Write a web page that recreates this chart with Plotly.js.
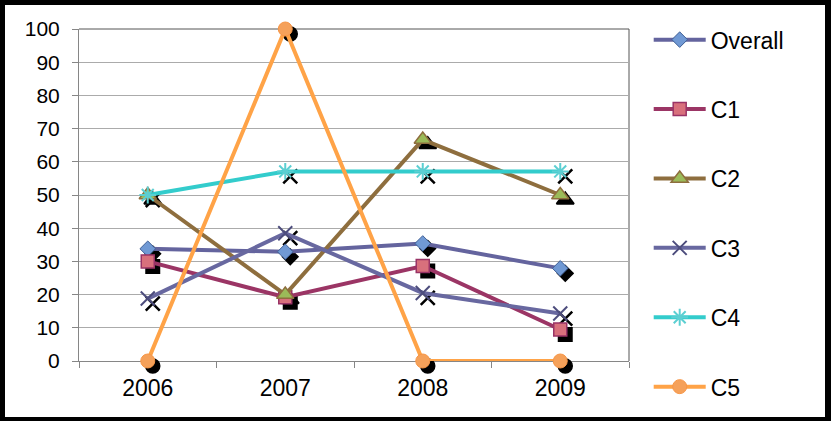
<!DOCTYPE html>
<html><head><meta charset="utf-8">
<script src="https://cdn.plot.ly/plotly-3.0.1.min.js"></script>
<style>
html,body{margin:0;padding:0;background:#000;width:831px;height:421px;overflow:hidden}
#chart{position:absolute;left:5px;top:5px;width:820px;height:412px;background:#fff}
</style></head><body><div id="chart"></div>
<script>
// ---- data ----
const years = ['2006', '2007', '2008', '2009'];
const overall = [33.8, 32.9, 35.4, 27.9];
const c1 = [30.0, 19.2, 28.6, 9.5];
const c2 = [50.0, 20.0, 66.7, 50.0];
const c3 = [18.8, 38.5, 20.5, 14.3];
const c4 = [50.0, 57.1, 57.1, 57.1];
const c5 = [0, 100, 0, 0];
const seriesNames = ['Overall', 'C1', 'C2', 'C3', 'C4', 'C5'];
const yTickVals = [0, 10, 20, 30, 40, 50, 60, 70, 80, 90, 100];

// ---- styles ----
const seriesValues = [overall, c1, c2, c3, c4, c5];
const styles = [
  {line: '#64649e', symbol: 'diamond', size: 12, fill: '#7099d4', edge: '#3f5f95', ew: 1},
  {line: '#9b3565', symbol: 'square', size: 13, fill: '#d8707c', edge: '#993366', ew: 1.5},
  {line: '#8e6e3e', symbol: 'triangle-up', size: 15, fill: '#9bbb59', edge: '#8e6e3e', ew: 1.5},
  {line: '#6868a0', symbol: 'x-thin', size: 14, fill: '#4d4d7d', edge: '#4d4d7d', ew: 2},
  {line: '#33cccc', symbol: 'asterisk', size: 14, fill: '#5ccfd2', edge: '#5ccfd2', ew: 2},
  {line: '#ffa347', symbol: 'circle', size: 14, fill: '#f5a15a', edge: '#f79646', ew: 1}
];

const W = 820, H = 412;
const M = {l: 74, t: 24, r: 191, b: 51};
const RW = W - M.l - M.r, RH = H - M.t - M.b;   // 555 x 337
const SH = 5; // shadow offset px
const mainX = [0, (RW - SH) / RW];
const mainY = [SH / RH, 1];
const shadX = [SH / RW, 1];
const shadY = [0, (RH - SH) / RH];

const traces = [];
// anchor trace for the visible axes (no marks)
traces.push({x: years, y: years.map(() => null), xaxis: 'x', yaxis: 'y', mode: 'lines',
  showlegend: false, hoverinfo: 'skip'});
// shadows
seriesValues.forEach((vals, i) => {
  const s = styles[i];
  traces.push({x: years, y: vals, xaxis: 'x2', yaxis: 'y2', mode: 'markers', cliponaxis: false,
    showlegend: false, hoverinfo: 'skip',
    marker: {symbol: s.symbol === 'asterisk' ? 'x-thin' : s.symbol, size: s.size, color: '#000',
      line: {color: '#000', width: s.ew + 0.5}}});
});
// series
seriesValues.forEach((vals, i) => {
  const s = styles[i];
  traces.push({x: years, y: vals, name: seriesNames[i], legendgroup: seriesNames[i],
    xaxis: 'x3', yaxis: 'y3', mode: 'lines+markers', cliponaxis: false,
    line: {color: s.line, width: 4},
    marker: {symbol: s.symbol, size: s.size, color: s.fill, line: {color: s.edge, width: s.ew}}});
});

const font = {family: 'Liberation Sans, Arial, sans-serif', color: '#000'};
const hidden = {visible: false, fixedrange: true};
const layout = {
  width: W, height: H, margin: M,
  paper_bgcolor: '#fff', plot_bgcolor: 'rgba(0,0,0,0)',
  font: font, showlegend: true,
  xaxis: {domain: mainX, anchor: 'y', type: 'category', range: [-0.5, 3.5], showgrid: false,
    showline: true, linecolor: '#868686', linewidth: 1, ticks: 'outside', tickson: 'boundaries',
    ticklen: 6, tickcolor: '#868686', ticklabelstandoff: 6,
    tickfont: Object.assign({size: 23}, font), fixedrange: true},
  yaxis: {domain: mainY, anchor: 'x', range: [0, 100], tickvals: yTickVals, showgrid: true,
    gridcolor: '#ababab', gridwidth: 1, zeroline: false, showline: true, linecolor: '#868686',
    ticks: 'outside', ticklen: 6, tickcolor: '#868686', ticklabelstandoff: 8,
    tickfont: Object.assign({size: 21}, font), fixedrange: true},
  xaxis2: Object.assign({domain: shadX, anchor: 'y2', type: 'category', range: [-0.5, 3.5]}, hidden),
  yaxis2: Object.assign({domain: shadY, anchor: 'x2', range: [0, 100]}, hidden),
  xaxis3: Object.assign({domain: mainX, anchor: 'y3', type: 'category', range: [-0.5, 3.5]}, hidden),
  yaxis3: Object.assign({domain: mainY, anchor: 'x3', range: [0, 100]}, hidden),
  shapes: [
    {type: 'line', xref: 'x domain', yref: 'y domain', x0: 0, x1: 1, y0: 1, y1: 1,
      line: {color: '#555', width: 1}, layer: 'below'},
    {type: 'line', xref: 'x domain', yref: 'y domain', x0: 1, x1: 1, y0: 0, y1: 1,
      line: {color: '#555', width: 1}, layer: 'below'}
  ],
  legend: {xref: 'container', yref: 'container', x: 0.785, y: 0.968, xanchor: 'left', yanchor: 'top',
    font: Object.assign({size: 23}, font), tracegroupgap: 36.5, itemwidth: 52, maxheight: 405,
    bgcolor: 'rgba(0,0,0,0)', borderwidth: 0}
};

Plotly.newPlot('chart', traces, layout, {displayModeBar: false, staticPlot: true});
</script></body></html>
